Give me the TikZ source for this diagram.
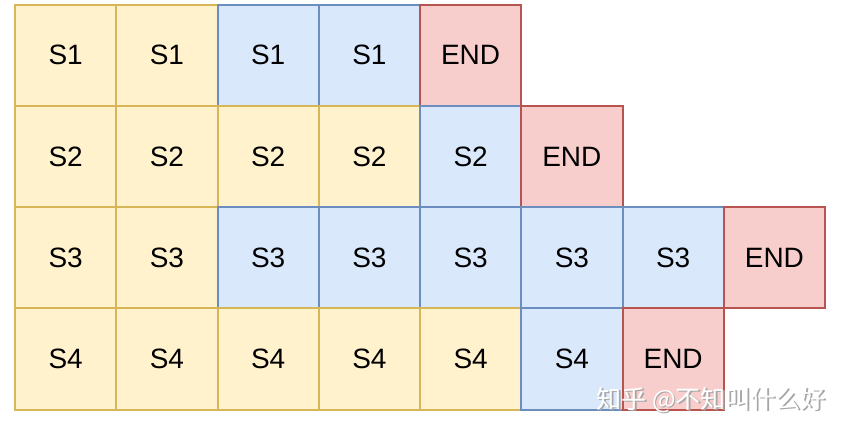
\documentclass[tikz,border=0pt]{standalone}
\usepackage{fontspec}
\setmainfont{Liberation Sans}
\newfontfamily\cjkfont{Noto Sans CJK SC}
\definecolor{yfill}{HTML}{FFF2CC}\definecolor{ydraw}{HTML}{D6B656}
\definecolor{bfill}{HTML}{DAE8FC}\definecolor{bdraw}{HTML}{6C8EBF}
\definecolor{rfill}{HTML}{F8CECC}\definecolor{rdraw}{HTML}{B85450}
\tikzset{
  cell/.style={minimum width=101.25pt,minimum height=101.25pt,inner sep=0pt,line width=2pt,font=\fontsize{28}{30}\selectfont,anchor=north west},
  ycell/.style={cell,fill=yfill,draw=ydraw},
  bcell/.style={cell,fill=bfill,draw=bdraw},
  rcell/.style={cell,fill=rfill,draw=rdraw},
}
\begin{document}
\begin{tikzpicture}[x=1pt,y=-1pt]
\useasboundingbox[fill=white] (0,0) rectangle (859,424);
\def\W{101.25}
\foreach \r/\lab/\types in {1/S1/{y,y,b,b,r},2/S2/{y,y,y,y,b,r},3/S3/{y,y,b,b,b,b,b,r},4/S4/{y,y,y,y,y,b,r}}{
  \foreach \t [count=\c] in \types {
    \pgfmathsetmacro\xx{14+(\c-1)*\W}
    \pgfmathsetmacro\yy{3.5+(\r-1)*\W}
    \if r\t
      \node[rcell] (c\r-\c) at (\xx,\yy) {END};
    \else
      \node[\t cell] (c\r-\c) at (\xx,\yy) {\lab};
    \fi
  }
}
\node[font=\cjkfont\fontsize{25}{27}\selectfont,text=black!35,anchor=east] (wmshadow) at (830.8,401.5) {知乎 @不知叫什么好};
\node[font=\cjkfont\fontsize{25}{27}\selectfont,text=white,anchor=east] (wm) at (829.5,400) {知乎 @不知叫什么好};
\end{tikzpicture}
\end{document}
